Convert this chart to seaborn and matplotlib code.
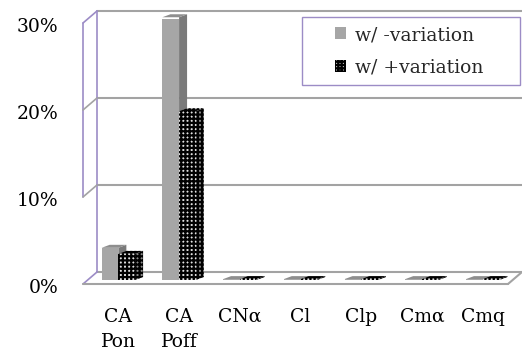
import matplotlib
matplotlib.use("Agg")
import numpy as np
import pandas as pd
import seaborn as sns
import matplotlib.pyplot as plt
from matplotlib.patches import Polygon, Rectangle, Patch

# ---- data -------------------------------------------------------------
categories = ["CA\nPon", "CA\nPoff", "CNα", "Cl", "Clp", "Cmα", "Cmq"]
minus_variation = [0.037, 0.302, 0.001, 0.001, 0.001, 0.001, 0.001]
plus_variation = [0.030, 0.194, 0.001, 0.001, 0.001, 0.001, 0.001]
series = ["w/ -variation", "w/ +variation"]
ytick_values = [0.0, 0.1, 0.2, 0.3]
ytick_labels = ["0%", "10%", "20%", "30%"]

df = pd.DataFrame({
    "param": categories * 2,
    "value": minus_variation + plus_variation,
    "series": [series[0]] * len(categories) + [series[1]] * len(categories),
})

# ---- style ------------------------------------------------------------
sns.set_theme(style="white")
plt.rcParams["font.family"] = ["DejaVu Serif"]
plt.rcParams["hatch.linewidth"] = 1.6

GRAY_FRONT = "#a6a6a6"
GRAY_SIDE = "#7a7a7a"
GRAY_TOP = "#8e8e8e"
GRID = "#a3a3a3"
PURPLE = "#9c8cc6"
FS = 13.5

W, H, DPI = 522, 355, 100
fig = plt.figure(figsize=(W / DPI, H / DPI), dpi=DPI)

# plane holding the bar fronts (pixel bounds)
x0, x1, y_top, y_base = 88, 513, 19, 280
ax = fig.add_axes([x0 / W, 1 - y_base / H, (x1 - x0) / W, (y_base - y_top) / H])

sns.barplot(data=df, x="param", y="value", hue="series", order=categories,
            hue_order=series, palette=[GRAY_FRONT, "white"], saturation=1,
            width=0.55, legend=False, ax=ax, zorder=3)

ax.set_xlim(-0.5, len(categories) - 0.5)
ax.set_ylim(0, 0.3)
for s in ax.spines.values():
    s.set_visible(False)
ax.patch.set_alpha(0)
ax.set_xlabel("")
ax.set_ylabel("")
ax.set_yticks([])

# pixel -> data conversions for the oblique depth
px_x = (x1 - x0) / len(categories)
px_y = (y_base - y_top) / 0.3
bar_dx, bar_dy = 8 / px_x, 3 / px_y          # depth of each column
back_dx, back_dy = 9 / px_x, 8 / px_y        # back wall offset
front_dx, front_dy = -5 / px_x, -4 / px_y    # front floor edge offset

xl, xr = -0.5, len(categories) - 0.5

# back wall gridlines (including floor back edge and top edge)
for v in ytick_values:
    ax.plot([xl + back_dx, xr + back_dx], [v + back_dy] * 2, color=GRID,
            lw=1.5, clip_on=False, zorder=1)

# left wall
ax.plot([xl + back_dx] * 2, [back_dy, 0.3 + back_dy], color=PURPLE, lw=1.2,
        clip_on=False, zorder=1)
ax.plot([xl + front_dx] * 2, [0.1 + front_dy, 0.3 + front_dy], color=PURPLE,
        lw=1.2, clip_on=False, zorder=1)
for v in ytick_values:
    col = PURPLE if v in (0.0, 0.3) else GRID
    ax.plot([xl + front_dx, xl + back_dx], [v + front_dy, v + back_dy],
            color=col, lw=1.2, clip_on=False, zorder=1)

# floor front edge and right side
ax.plot([xl + front_dx, xr + front_dx], [front_dy] * 2, color=GRID, lw=1.5,
        clip_on=False, zorder=1)
ax.plot([xr + front_dx, xr + back_dx], [front_dy, back_dy], color=GRID,
        lw=1.5, clip_on=False, zorder=1)

# column styling and the side/top faces
hatch = "++++"
for k, cont in enumerate(ax.containers):
    for bar in cont:
        bx, by = bar.get_x(), bar.get_y()
        bw, bh = bar.get_width(), bar.get_height()
        if k == 0:
            bar.set_facecolor(GRAY_FRONT)
            bar.set_edgecolor(GRAY_FRONT)
            bar.set_linewidth(0)
            side_kw = dict(facecolor=GRAY_SIDE, edgecolor=GRAY_SIDE, lw=0)
            top_kw = dict(facecolor=GRAY_TOP, edgecolor=GRAY_TOP, lw=0)
        else:
            bar.set_facecolor("#e0e0e0")
            bar.set_edgecolor("black")
            bar.set_hatch(hatch)
            bar.set_linewidth(0)
            side_kw = dict(facecolor="#8a8a8a", edgecolor="black", hatch=hatch, lw=0)
            top_kw = dict(facecolor="#a0a0a0", edgecolor="black", hatch=hatch, lw=0)
        top = by + bh
        side = Polygon([(bx + bw, by), (bx + bw, top), (bx + bw + bar_dx, top + bar_dy),
                        (bx + bw + bar_dx, by + bar_dy)], closed=True,
                       clip_on=False, zorder=2, **side_kw)
        cap = Polygon([(bx, top), (bx + bw, top), (bx + bw + bar_dx, top + bar_dy),
                       (bx + bar_dx, top + bar_dy)], closed=True,
                      clip_on=False, zorder=2, **top_kw)
        ax.add_patch(side)
        ax.add_patch(cap)

# category labels
ax.set_xticks(range(len(categories)), categories)
ax.tick_params(axis="x", length=0, pad=20, labelsize=FS, colors="black")
for lbl in ax.get_xticklabels():
    lbl.set_linespacing(1.5)

# percentage labels on the front plane
for v, lab in zip(ytick_values, ytick_labels):
    ax.text(xl + (58 - x0) / px_x, v - 13 / px_y, lab, ha="right",
            va="baseline", fontsize=FS, color="black", clip_on=False)

# legend box
fig.add_artist(Rectangle((302 / W, 1 - 85 / H), 218 / W, 68 / H,
                         transform=fig.transFigure, facecolor="white",
                         edgecolor=PURPLE, lw=1.0, zorder=5))
handles = [Patch(facecolor=GRAY_FRONT, edgecolor=GRAY_FRONT, lw=0),
           Patch(facecolor="#e0e0e0", edgecolor="black", hatch="+++++", lw=0)]
leg = fig.legend(handles, series, loc="upper left",
                 bbox_to_anchor=(335 / W, 1 - 26 / H), bbox_transform=fig.transFigure,
                 frameon=False, fontsize=FS, borderpad=0, borderaxespad=0,
                 handlelength=0.6, handleheight=0.6, handletextpad=0.45,
                 labelspacing=0.8)
leg.set_zorder(6)

fig.savefig("out.png", dpi=DPI)
